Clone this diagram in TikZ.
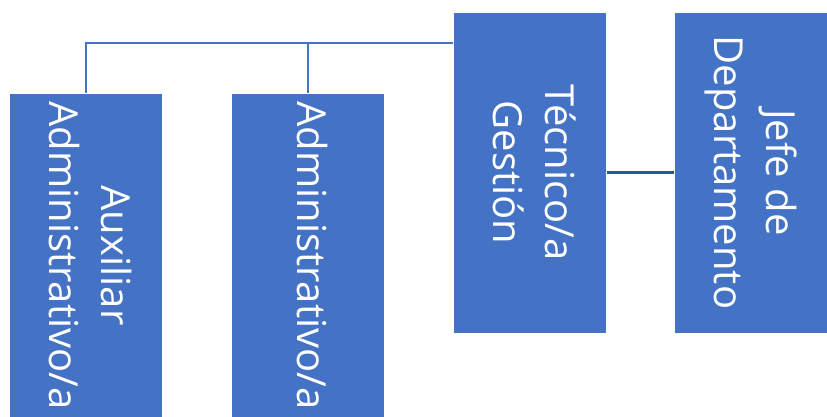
\documentclass[tikz,border=0pt]{standalone}
\usepackage{fontspec}
\setmainfont{Open Sans}
\definecolor{cajaazul}{HTML}{4472C4}
\definecolor{lineaosc}{HTML}{2F5597}
\tikzset{
	puesto/.style={
			fill=cajaazul, draw=white, line width=0.6pt, text=white,
			minimum width=153pt, minimum height=321pt, inner sep=0pt,
			font=\fontsize{40}{52}\selectfont
		},
	rama/.style={draw=cajaazul, line width=2pt}
}
\newcommand{\vtexto}[1]{\rotatebox{-90}{\begin{tabular}{@{}c@{}}#1\end{tabular}}}

\begin{document}
\begin{tikzpicture}[x=1pt,y=-1pt]
    \useasboundingbox (0,0) rectangle (827,417);
    \node[puesto] (jefe) at (750.5,172.5) {\vtexto{Jefe de\\Departamento}};
    \node[puesto] (tecnico) at (530,172.5) {\vtexto{Técnico/a\\Gestión}};
    \node[puesto, minimum height=325pt] (admin) at (307.5,255.5) {\vtexto{Administrativo/a}};
    \node[puesto, minimum height=325pt] (aux) at (85.5,255.5) {\vtexto{Auxiliar\\Administrativo/a}};
    \coordinate (bus) at (0,43);
    \draw[rama] (tecnico.west |- bus) -| (aux.north);
    \draw[rama] (admin.north |- bus) -- (admin.north);
    \draw[lineaosc, line width=2.6pt] (tecnico.east) -- (jefe.west);
\end{tikzpicture}
\end{document}
